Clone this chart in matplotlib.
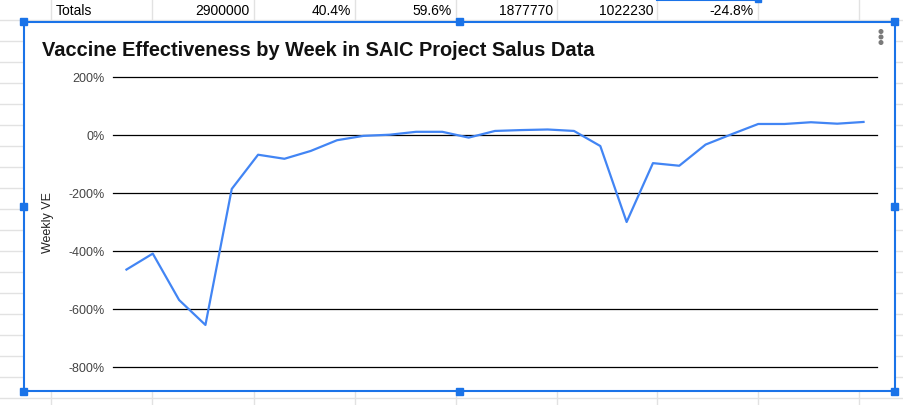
import matplotlib.pyplot as plt
from matplotlib.ticker import PercentFormatter
from matplotlib.patches import Rectangle, Circle

plt.rcParams['axes.unicode_minus'] = False

# weekly vaccine effectiveness (1.0 = 100%)
weeks = list(range(1, 30))
weekly_ve = [-4.64, -4.09, -5.69, -6.55, -1.86, -0.68, -0.82, -0.55, -0.18, -0.03,
             0.01, 0.11, 0.11, -0.09, 0.14, 0.17, 0.19, 0.14, -0.38, -3.00,
             -0.97, -1.06, -0.33, 0.03, 0.38, 0.38, 0.44, 0.39, 0.45]
y_ticks = [2, 0, -2, -4, -6, -8]

# spreadsheet row above the chart
totals_label = "Totals"
totals_values = ["2900000", "40.4%", "59.6%", "1877770", "1022230", "-24.8%"]

W, H = 904, 406
fig = plt.figure(figsize=(W / 100, H / 100), dpi=100)

# background layer in pixel coordinates
bg = fig.add_axes([0, 0, 1, 1])
bg.set_xlim(0, W)
bg.set_ylim(H, 0)
bg.axis('off')

grid_c = '#e2e2e2'
col_x = [51, 152.5, 254, 355, 456, 557, 657.5, 758, 859]
for y in range(21, 400, 21):
    bg.plot([0, W], [y, y], color=grid_c, lw=1, zorder=0)
for x in col_x:
    bg.plot([x, x], [0, H], color=grid_c, lw=1, zorder=0)

font_cell = ['Liberation Sans', 'DejaVu Sans']
bg.text(56, 11, totals_label, ha='left', va='center', fontsize=10, family=font_cell)
for i, val in enumerate(totals_values):
    bg.text(col_x[i + 2] - 4, 11, val, ha='right', va='center', fontsize=10, family=font_cell)

# selected cell top border
blue = '#1a73e8'
bg.plot([657.5, 758], [0.8, 0.8], color=blue, lw=1.5, zorder=3)
bg.add_patch(Rectangle((755, -3), 6, 6, color=blue, zorder=4))

# chart card
bg.add_patch(Rectangle((24, 22.5), 871, 370, facecolor='white', edgecolor='none', zorder=1))
bg.plot([24, 895, 895, 24, 24], [22.5, 22.5, 392.3, 392.3, 22.5], color=blue, lw=1.5, zorder=3)
for hx in (24, 459.5, 895):
    for hy in (22.5, 207.4, 392.3):
        if hx == 459.5 and hy == 207.4:
            continue
        bg.add_patch(Rectangle((hx - 3.5, hy - 3.5), 7, 7, color=blue, zorder=4))
for dy in (32.5, 38, 43.5):
    bg.add_patch(Circle((881, dy), 1.8, color='#7a7a7a', zorder=4))

bg.text(42, 50, "Vaccine Effectiveness by Week in SAIC Project Salus Data",
        ha='left', va='center', fontsize=14.4, fontweight='bold',
        family=font_cell, color='#111111', zorder=5)
bg.text(48, 223, "Weekly VE", rotation=90, ha='center', va='center', fontsize=9,
        family=font_cell, color='#222222', zorder=5)

# plot area
left, right, top, bottom = 113.3, 876.7, 78, 368
ax = fig.add_axes([left / W, 1 - bottom / H, (right - left) / W, (bottom - top) / H])
ax.patch.set_alpha(0)
ax.plot(weeks, weekly_ve, color='#4285f4', lw=1.6, zorder=3, clip_on=False)
ax.set_xlim(0.5, 29.5)
ax.set_ylim(-8, 2)
ax.set_yticks(y_ticks)
ax.yaxis.set_major_formatter(PercentFormatter(xmax=1, decimals=0))
ax.yaxis.grid(True, color='black', lw=0.9)
for gl in ax.get_ygridlines():
    gl.set_clip_on(False)
ax.set_xticks([])
ax.tick_params(axis='y', length=0, pad=6, labelsize=9, labelcolor='#444444')
for lab in ax.get_yticklabels():
    lab.set_family(font_cell)
for s in ax.spines.values():
    s.set_visible(False)

fig.savefig('out.png', dpi=100)
